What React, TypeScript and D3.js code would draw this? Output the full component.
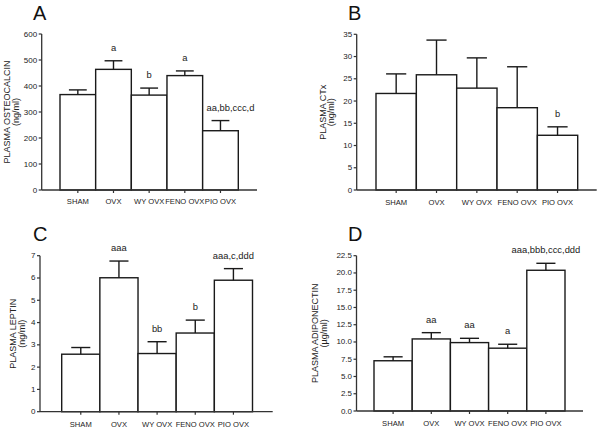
import React from "react";
import * as d3 from "d3";

const categories = ["SHAM", "OVX", "WY OVX", "FENO OVX", "PIO OVX"];

const osteocalcinMean = [367, 464, 365, 440, 228];
const osteocalcinSem = [18, 33, 27, 18, 39];
const osteocalcinSig = ["", "a", "b", "a", "aa,bb,ccc,d"];
const osteocalcinTicks = [0, 100, 200, 300, 400, 500, 600];

const ctxMean = [21.7, 25.9, 22.9, 18.5, 12.3];
const ctxSem = [4.4, 7.8, 6.8, 9.2, 1.9];
const ctxSig = ["", "", "", "", "b"];
const ctxTicks = [0, 5, 10, 15, 20, 25, 30, 35];

const leptinMean = [2.58, 6.01, 2.61, 3.53, 5.9];
const leptinSem = [0.3, 0.75, 0.53, 0.58, 0.52];
const leptinSig = ["", "aaa", "bb", "b", "aaa,c,ddd"];
const leptinTicks = [0, 1, 2, 3, 4, 5, 6, 7];

const adipoMean = [7.28, 10.44, 9.91, 9.1, 20.39];
const adipoSem = [0.57, 0.91, 0.62, 0.57, 1.01];
const adipoSig = ["", "aa", "aa", "a", "aaa,bbb,ccc,ddd"];
const adipoTicks = [0, 2.5, 5, 7.5, 10, 12.5, 15, 17.5, 20, 22.5];

const FONT = "'Liberation Sans', Arial, Helvetica, sans-serif";
const AXIS = "#333";
const BAR = "#1a1a1a";

type PanelProps = {
  letter: string;
  letterX: number;
  letterY: number;
  mean: number[];
  sem: number[];
  sig: string[];
  ticks: number[];
  fmt: (v: number) => string;
  axisX: number;
  axisEnd: number;
  top: number;
  bottom: number;
  barStart: number;
  barEnd: number;
  title1: string;
  title2: string;
  t1x: number;
  t2x: number;
  lastSigDx?: number;
  xLabelDy: number;
};

function Panel(p: PanelProps) {
  const yMax = p.ticks[p.ticks.length - 1];
  const y = d3.scaleLinear().domain([0, yMax]).range([p.bottom, p.top]);
  const x = d3.scaleBand<string>().domain(categories).range([p.barStart, p.barEnd]).padding(0);
  const bw = x.bandwidth();
  const midY = (p.top + p.bottom) / 2;
  return (
    <g fontFamily={FONT}>
      <text x={p.letterX} y={p.letterY} fontSize={20} fill="#111">
        {p.letter}
      </text>
      {/* y title */}
      <text
        transform={`translate(${p.t1x},${midY}) rotate(-90)`}
        textAnchor="middle"
        dominantBaseline="central"
        fontSize={9}
        fill="#222"
      >
        {p.title1}
      </text>
      <text
        transform={`translate(${p.t2x},${midY}) rotate(-90)`}
        textAnchor="middle"
        dominantBaseline="central"
        fontSize={9}
        fill="#222"
      >
        {p.title2}
      </text>
      {/* bars */}
      {categories.map((c, i) => {
        const x0 = x(c)!;
        const cx = x0 + bw / 2;
        const yt = y(p.mean[i]);
        const ye = y(p.mean[i] + p.sem[i]);
        const dx = i === categories.length - 1 && p.lastSigDx ? p.lastSigDx : 0;
        return (
          <g key={c}>
            <rect x={x0} y={yt} width={bw} height={p.bottom - yt} fill="#fff" stroke={BAR} strokeWidth={1.4} />
            <line x1={cx} x2={cx} y1={yt} y2={ye} stroke={BAR} strokeWidth={1.4} />
            <line x1={cx - bw / 4} x2={cx + bw / 4} y1={ye} y2={ye} stroke={BAR} strokeWidth={1.4} />
            {p.sig[i] && (
              <text x={cx + dx} y={ye - 10} textAnchor="middle" fontSize={9.4} fill="#222">
                {p.sig[i]}
              </text>
            )}
            <line x1={cx} x2={cx} y1={p.bottom} y2={p.bottom + 3} stroke={AXIS} strokeWidth={1.2} />
            <text x={cx} y={p.bottom + p.xLabelDy} textAnchor="middle" fontSize={7.6} fill="#222">
              {c}
            </text>
          </g>
        );
      })}
      {/* y axis */}
      <line x1={p.axisX} x2={p.axisX} y1={p.top} y2={p.bottom} stroke={AXIS} strokeWidth={1.3} />
      {p.ticks.map((t) => (
        <g key={t}>
          <line x1={p.axisX - 3} x2={p.axisX} y1={y(t)} y2={y(t)} stroke={AXIS} strokeWidth={1.2} />
          <text x={p.axisX - 4.5} y={y(t)} textAnchor="end" dominantBaseline="central" fontSize={8} fill="#222">
            {p.fmt(t)}
          </text>
        </g>
      ))}
      {/* x axis */}
      <line x1={p.axisX} x2={p.axisEnd} y1={p.bottom} y2={p.bottom} stroke={AXIS} strokeWidth={1.3} />
    </g>
  );
}

export default function App() {
  const intFmt = d3.format("d");
  const oneDec = d3.format(".1f");
  return (
    <svg
      width={600}
      height={429}
      viewBox="0 0 600 429"
      style={{ position: "absolute", left: 0, top: 0, background: "#fff" }}
    >
      <rect x={0} y={0} width={600} height={429} fill="#fff" />
      <Panel
        letter="A"
        letterX={33}
        letterY={20}
        mean={osteocalcinMean}
        sem={osteocalcinSem}
        sig={osteocalcinSig}
        ticks={osteocalcinTicks}
        fmt={intFmt}
        axisX={41.7}
        axisEnd={257}
        top={34}
        bottom={190}
        barStart={60}
        barEnd={238.3}
        title1="PLASMA OSTEOCALCIN"
        title2="(ng/ml)"
        t1x={6.7}
        t2x={16}
        lastSigDx={10}
        xLabelDy={14}
      />
      <Panel
        letter="B"
        letterX={348}
        letterY={19.5}
        mean={ctxMean}
        sem={ctxSem}
        sig={ctxSig}
        ticks={ctxTicks}
        fmt={intFmt}
        axisX={356.7}
        axisEnd={596.7}
        top={34.3}
        bottom={190}
        barStart={376}
        barEnd={577.7}
        title1="PLASMA CTx"
        title2="(ng/ml)"
        t1x={322.5}
        t2x={331}
        xLabelDy={15}
      />
      <Panel
        letter="C"
        letterX={33}
        letterY={241}
        mean={leptinMean}
        sem={leptinSem}
        sig={leptinSig}
        ticks={leptinTicks}
        fmt={intFmt}
        axisX={40}
        axisEnd={272.7}
        top={255.7}
        bottom={411.7}
        barStart={61.7}
        barEnd={252.5}
        title1="PLASMA LEPTIN"
        title2="(ng/ml)"
        t1x={13.3}
        t2x={21.5}
        xLabelDy={15.5}
      />
      <Panel
        letter="D"
        letterX={348}
        letterY={241}
        mean={adipoMean}
        sem={adipoSem}
        sig={adipoSig}
        ticks={adipoTicks}
        fmt={oneDec}
        axisX={356.5}
        axisEnd={583}
        top={255.7}
        bottom={411}
        barStart={374}
        barEnd={565}
        title1="PLASMA ADIPONECTIN"
        title2="(µg/ml)"
        t1x={315}
        t2x={323.7}
        xLabelDy={15}
      />
    </svg>
  );
}
